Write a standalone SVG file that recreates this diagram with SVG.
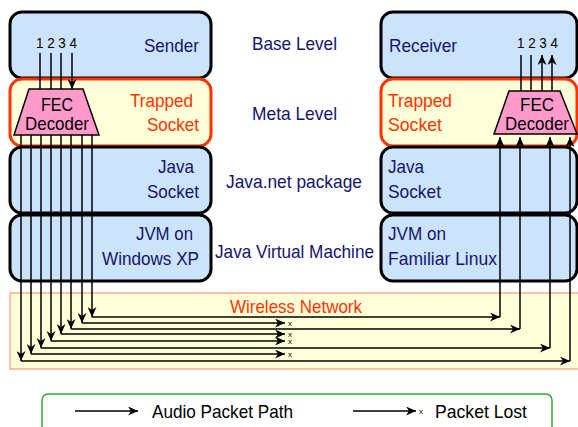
<svg xmlns="http://www.w3.org/2000/svg" width="578" height="427" viewBox="0 0 578 427">
<defs>
<style>
.t{font-family:"Liberation Sans",Arial,sans-serif;font-size:19px;fill:#14146e}
.o{fill:#ff3300}
.k{fill:#000}
.n{font-size:14px;fill:#000}
.s{font-size:8px;fill:#000}
.base{fill:#cce4fb;stroke:#000;stroke-width:3}
.meta{fill:#ffffd8;stroke:#ff3300;stroke-width:3}
.fec{fill:#ff9acb;stroke:#000;stroke-width:1.5}
.ln{fill:none;stroke:#000;stroke-width:1.5}
.ar{marker-end:url(#ah)}
</style>
<marker id="ah" markerUnits="userSpaceOnUse" markerWidth="11" markerHeight="9" refX="10" refY="4.5" orient="auto">
<path d="M0,0 L10,4.5 L0,9 L3,4.5 z" fill="#000"/>
</marker>
</defs>
<rect width="578" height="427" fill="#fff"/>

<g id="wireless">
<rect x="10" y="293" width="572" height="76" fill="#ffffd8" stroke="#ff9977" stroke-width="1.2"/>
<text class="t o" x="230" y="313" textLength="132" lengthAdjust="spacingAndGlyphs">Wireless Network</text>
</g>

<g id="sender">
<rect class="base" x="10" y="12" width="201" height="66" rx="12"/>
<text class="t" x="144" y="52" textLength="55" lengthAdjust="spacingAndGlyphs">Sender</text>
<text class="t n" x="36" y="48" textLength="41" lengthAdjust="spacingAndGlyphs">1 2 3 4</text>
</g>
<g id="trapped-left">
<rect class="meta" x="10" y="79" width="201" height="67" rx="12"/>
<text class="t o" x="130" y="107" textLength="63" lengthAdjust="spacingAndGlyphs">Trapped</text>
<text class="t o" x="147" y="131" textLength="52" lengthAdjust="spacingAndGlyphs">Socket</text>
</g>
<g id="javasocket-left">
<rect class="base" x="10" y="147" width="201" height="66" rx="12"/>
<text class="t" x="158" y="173" textLength="36" lengthAdjust="spacingAndGlyphs">Java</text>
<text class="t" x="147" y="198" textLength="52" lengthAdjust="spacingAndGlyphs">Socket</text>
</g>
<g id="jvm-left">
<rect class="base" x="10" y="215" width="201" height="66" rx="12"/>
<text class="t" x="136" y="240" textLength="57" lengthAdjust="spacingAndGlyphs">JVM on</text>
<text class="t" x="102" y="265" textLength="97" lengthAdjust="spacingAndGlyphs">Windows XP</text>
</g>

<g id="receiver">
<rect class="base" x="381" y="12" width="196" height="66" rx="12"/>
<text class="t" x="389" y="52" textLength="68" lengthAdjust="spacingAndGlyphs">Receiver</text>
<text class="t n" x="517" y="48" textLength="41" lengthAdjust="spacingAndGlyphs">1 2 3 4</text>
</g>
<g id="trapped-right">
<rect class="meta" x="381" y="79" width="196" height="67" rx="12"/>
<text class="t o" x="388" y="107" textLength="64" lengthAdjust="spacingAndGlyphs">Trapped</text>
<text class="t o" x="388" y="131" textLength="54" lengthAdjust="spacingAndGlyphs">Socket</text>
</g>
<g id="javasocket-right">
<rect class="base" x="381" y="147" width="196" height="66" rx="12"/>
<text class="t" x="388" y="173" textLength="36" lengthAdjust="spacingAndGlyphs">Java</text>
<text class="t" x="388" y="198" textLength="53" lengthAdjust="spacingAndGlyphs">Socket</text>
</g>
<g id="jvm-right">
<rect class="base" x="381" y="215" width="196" height="66" rx="12"/>
<text class="t" x="388" y="240" textLength="58" lengthAdjust="spacingAndGlyphs">JVM on</text>
<text class="t" x="388" y="265" textLength="109" lengthAdjust="spacingAndGlyphs">Familiar Linux</text>
</g>

<g id="level-labels">
<text class="t" x="252" y="50" textLength="85" lengthAdjust="spacingAndGlyphs">Base Level</text>
<text class="t" x="252" y="120" textLength="85" lengthAdjust="spacingAndGlyphs">Meta Level</text>
<text class="t" x="226" y="188" textLength="136" lengthAdjust="spacingAndGlyphs">Java.net package</text>
<text class="t" x="215" y="258" textLength="159" lengthAdjust="spacingAndGlyphs">Java Virtual Machine</text>
</g>

<g id="fec-left">
<polygon class="fec" points="29,89 83,89 99,135 14,135"/>
<text class="t k" x="41" y="111" font-size="21" textLength="32" lengthAdjust="spacingAndGlyphs">FEC</text>
<text class="t k" x="25" y="130" font-size="21" textLength="64" lengthAdjust="spacingAndGlyphs">Decoder</text>
</g>
<g id="fec-right">
<polygon class="fec" points="509,91 560,91 577,134 494,134"/>
<text class="t k" x="520" y="111" font-size="21" textLength="34" lengthAdjust="spacingAndGlyphs">FEC</text>
<text class="t k" x="505" y="130" font-size="21" textLength="64" lengthAdjust="spacingAndGlyphs">Decoder</text>
</g>

<g id="connectors">
<path class="ln ar" d="M40,53V89M51,53V89M61,53V89M72,53V89"/>
<path class="ln ar" d="M521,91V55M531,91V55M542,91V55"/>
<path class="ln ar" d="M552,91V55" stroke="#888"/>

<path class="ln ar" d="M92,135V317"/>
<path class="ln ar" d="M82,135V323"/>
<path class="ln ar" d="M71,135V329"/>
<path class="ln ar" d="M61,135V334"/>
<path class="ln ar" d="M51,135V341"/>
<path class="ln ar" d="M41,135V348"/>
<path class="ln ar" d="M31,135V354"/>
<path class="ln ar" d="M21,135V361"/>

<path class="ln ar" d="M92,317H500"/>
<path class="ln ar" d="M71,329H520"/>
<path class="ln ar" d="M41,348H550"/>
<path class="ln ar" d="M21,361H570"/>

<path class="ln ar" d="M82,323H285"/>
<path class="ln ar" d="M61,334H285"/>
<path class="ln ar" d="M51,341H285"/>
<path class="ln ar" d="M31,354H285"/>
<text class="t s" x="288" y="326">x</text>
<text class="t s" x="288" y="336.5">x</text>
<text class="t s" x="288" y="344">x</text>
<text class="t s" x="288" y="357">x</text>

<path class="ln ar" d="M500,317V137"/>
<path class="ln ar" d="M520,329V137"/>
<path class="ln ar" d="M550,348V137"/>
<path class="ln ar" d="M570,361V137"/>
</g>

<g id="legend">
<rect x="42" y="394" width="510" height="50" rx="6" fill="#fff" stroke="#33aa33" stroke-width="1.5"/>
<path class="ln ar" d="M75,411H138"/>
<text class="t k" x="152" y="418" textLength="141" lengthAdjust="spacingAndGlyphs">Audio Packet Path</text>
<path class="ln ar" d="M353,411H416"/>
<text class="t s" x="419" y="414">x</text>
<text class="t k" x="435" y="418" textLength="92" lengthAdjust="spacingAndGlyphs">Packet Lost</text>
</g>
</svg>
